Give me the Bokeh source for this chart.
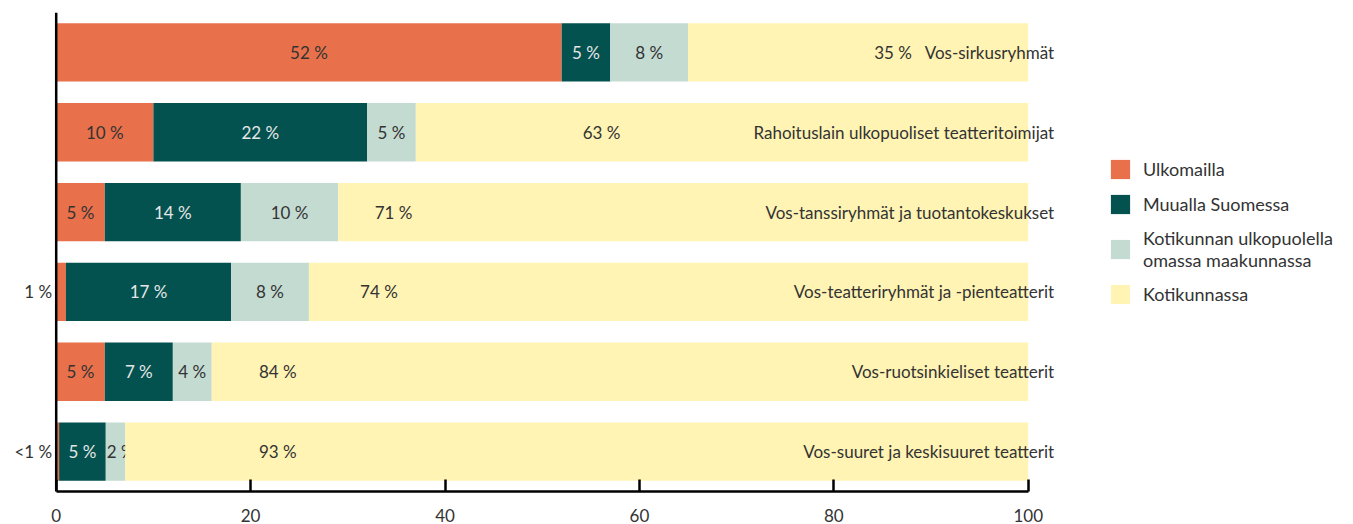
from bokeh.plotting import figure
from bokeh.models import ColumnDataSource, Span, FixedTicker, Legend, LegendItem, Range1d
from bokeh.core.properties import value
from bokeh.embed import file_html
from bokeh.resources import INLINE

categories = [
    "Vos-sirkusryhmät",
    "Rahoituslain ulkopuoliset teatteritoimijat",
    "Vos-tanssiryhmät ja tuotantokeskukset",
    "Vos-teatteriryhmät ja -pienteatterit",
    "Vos-ruotsinkieliset teatterit",
    "Vos-suuret ja keskisuuret teatterit",
]
series_names = [
    "Ulkomailla",
    "Muualla Suomessa",
    "Kotikunnan ulkopuolella\nomassa maakunnassa",
    "Kotikunnassa",
]
ulkomailla = [52, 10, 5, 1, 5, 0.3]
muualla_suomessa = [5, 22, 14, 17, 7, 4.8]
oma_maakunta = [8, 5, 10, 8, 4, 2]
kotikunnassa = [35, 63, 71, 74, 84, 92.9]
# where the Kotikunnassa value labels sit along the bar (data units)
kotikunta_label_at = [86.1, 56.1, 34.7, 33.2, 22.8, 22.8]
x_ticks = [0, 20, 40, 60, 80, 100]

colors = ["#E8714B", "#035250", "#C4DBD2", "#FFF4B3"]
text_colors = ["#333333", "#E6E6E6", "#333333", "#333333"]
FONT = "Lato"
FS = "17px"

series = [ulkomailla, muualla_suomessa, oma_maakunta, kotikunnassa]
n = len(categories)
ys = [n - i - 0.5 for i in range(n)]

PX = 9.72  # px per unit
X0 = 55.7  # page x of value 0
p = figure(
    width=1353, height=524,
    x_range=Range1d(-X0 / PX, (1353 - X0) / PX),
    y_range=Range1d(0, n),
    output_backend="svg", toolbar_location=None,
    y_axis_location=None,
    min_border_left=0, min_border_right=0, min_border_top=12, min_border_bottom=0,
)
p.outline_line_color = None
p.xgrid.visible = False
p.ygrid.visible = False

left = [0.0] * n
renderers = []
for k, vals in enumerate(series):
    right = [l + v for l, v in zip(left, vals)]
    src = ColumnDataSource(dict(y=ys, left=left, right=right))
    r = p.hbar(y="y", left="left", right="right", height=0.73, source=src,
               fill_color=colors[k], line_color=None)
    renderers.append(r)
    lab = ["<1 %" if v < 1 else f"{v:.0f} %" for v in vals]
    cx, cy, ct = [], [], []      # centred in segment
    lx, ly, lt = [], [], []      # narrow segment: start at segment's left edge
    ox, oy, ot = [], [], []      # tiny: outside, left of the axis
    for i, v in enumerate(vals):
        if k == 3:
            cx.append(kotikunta_label_at[i]); cy.append(ys[i]); ct.append(lab[i])
        elif v < 1.5:
            ox.append(left[i]); oy.append(ys[i]); ot.append(lab[i])
        elif v < 3:
            lx.append(left[i]); ly.append(ys[i]); lt.append(lab[i])
        else:
            cx.append((left[i] + right[i]) / 2); cy.append(ys[i]); ct.append(lab[i])
    p.text(x=cx, y=cy, text=ct, text_align="center", text_baseline="middle",
           text_font=value(FONT), text_font_size=FS, text_color=text_colors[k])
    if lx:
        p.text(x=lx, y=ly, text=lt, text_align="left", text_baseline="middle",
               x_offset=1, text_font=value(FONT), text_font_size=FS, text_color=text_colors[k])
    if ox:
        p.text(x=ox, y=oy, text=ot, text_align="right", text_baseline="middle",
               x_offset=-4, text_font=value(FONT), text_font_size=FS, text_color="#333333")
    left = right

totals = left
p.text(x=totals, y=ys, text=categories, text_align="right", text_baseline="middle",
       x_offset=26, text_font=value(FONT), text_font_size=FS, text_color="#333333")

p.add_layout(Span(location=0, dimension="height", line_color="black", line_width=2.5))

ax = p.xaxis[0]
ax.bounds = (0, 100)
ax.ticker = FixedTicker(ticks=x_ticks)
ax.major_tick_in = 12
ax.major_tick_out = 0
ax.minor_tick_line_color = None
ax.axis_line_width = 2.5
ax.major_tick_line_width = 2.5
ax.axis_line_color = "black"
ax.major_tick_line_color = "black"
ax.major_label_text_font = FONT
ax.major_label_text_font_size = FS
ax.major_label_text_color = "#333333"
ax.major_label_standoff = 17

legend = Legend(
    items=[LegendItem(label=s, renderers=[r]) for s, r in zip(series_names, renderers)],
    location=(1108, 185),
    glyph_width=24, glyph_height=24, label_standoff=11, spacing=11,
    padding=0, margin=0, border_line_color=None, background_fill_alpha=0,
    label_text_font=FONT, label_text_font_size="18px", label_text_color="#333333",
)
p.add_layout(legend)

open("out.html", "w").write(file_html(p, INLINE))
